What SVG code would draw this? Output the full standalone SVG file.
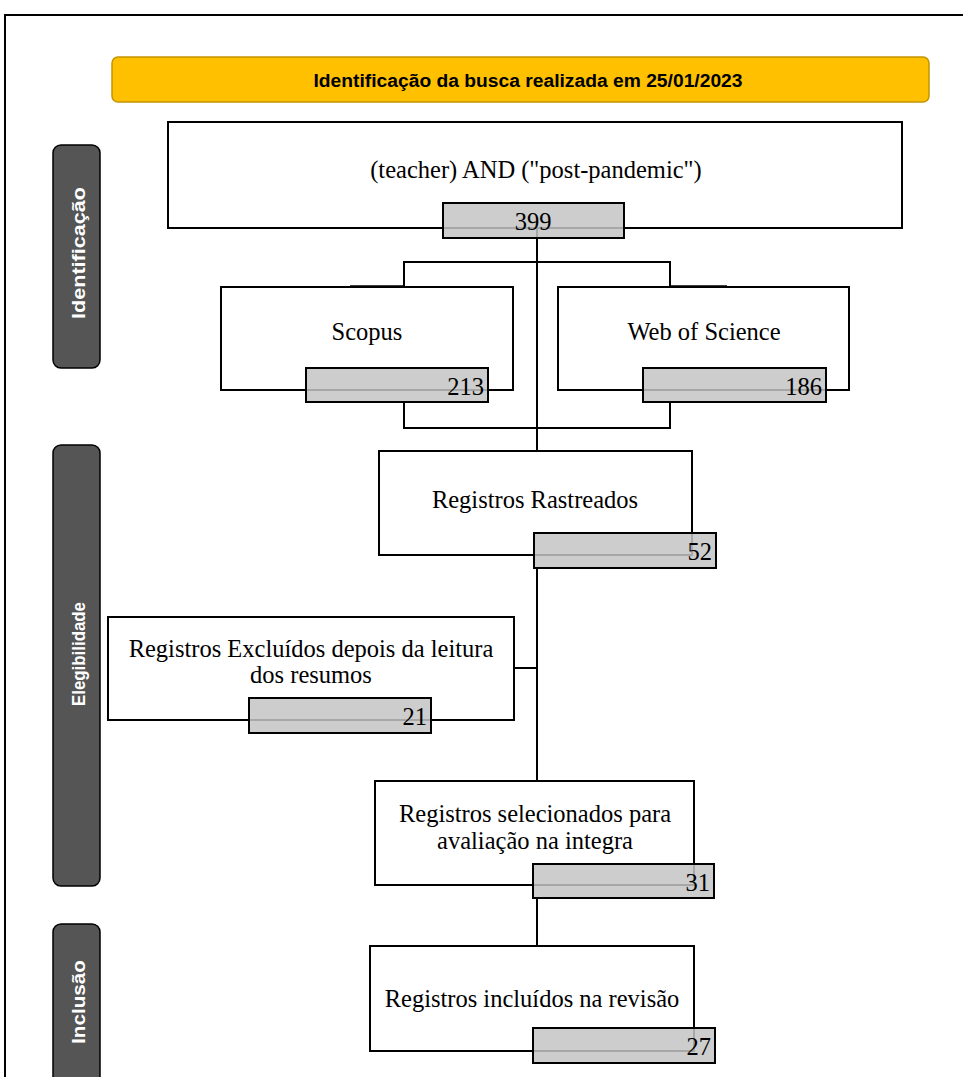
<svg xmlns="http://www.w3.org/2000/svg" width="963" height="1077" viewBox="0 0 963 1077">
<style>
.box{fill:#fff;stroke:#000;stroke-width:2}
.num{fill:#c4c4c4;fill-opacity:0.85;stroke:#000;stroke-width:2}
.t{font-family:"Liberation Serif","Times New Roman",serif;font-size:24.5px;fill:#000}
.side{fill:#555;stroke:#000;stroke-width:1.5}
.st{font-family:"Liberation Sans",Arial,sans-serif;font-weight:bold;font-size:19px;fill:#fff}
.ln{fill:none;stroke:#000;stroke-width:2}
</style>
<rect width="963" height="1077" fill="#fff"/>
<path d="M5,1077 V15 H963" fill="none" stroke="#000" stroke-width="2"/>
<g id="banner">
<rect x="112" y="57" width="817" height="45" rx="6" fill="#ffc000" stroke="#c49400" stroke-width="1.5"/>
<text x="528" y="87" text-anchor="middle" font-family="'Liberation Sans',Arial,sans-serif" font-weight="bold" font-size="18" textLength="429" lengthAdjust="spacingAndGlyphs">Identificação da busca realizada em 25/01/2023</text>
</g>
<g id="lbl-identificacao">
<rect class="side" x="53" y="145" width="47" height="223" rx="8"/>
<text class="st" transform="translate(85,253) rotate(-90)" text-anchor="middle" textLength="132" lengthAdjust="spacingAndGlyphs">Identificação</text>
</g>
<g id="lbl-elegibilidade">
<rect class="side" x="53" y="445" width="47" height="441" rx="8"/>
<text class="st" transform="translate(85,654) rotate(-90)" text-anchor="middle" textLength="104" lengthAdjust="spacingAndGlyphs">Elegibilidade</text>
</g>
<g id="lbl-inclusao">
<rect class="side" x="53" y="924" width="47" height="170" rx="8"/>
<text class="st" transform="translate(85,1002) rotate(-90)" text-anchor="middle" textLength="84" lengthAdjust="spacingAndGlyphs">Inclusão</text>
</g>
<g id="connectors">
<path class="ln" d="M537,220 V450"/>
<path class="ln" d="M404,287 V262 H670 V287"/>
<path class="ln" d="M404,402 V428 H670 V402"/>
<path d="M350,287 H404 M670,287 H727" stroke="#000" stroke-width="3.5"/>
<path class="ln" d="M537,568 V781"/>
<path class="ln" d="M514,668 H537"/>
<path class="ln" d="M537,898 V946"/>
</g>
<g id="n-query">
<rect class="box" x="168" y="122" width="734" height="106"/>
<text class="t" x="536" y="178" text-anchor="middle">(teacher) AND ("post-pandemic")</text>
<rect class="num" x="443" y="203" width="181" height="35"/>
<text class="t" x="533" y="230" text-anchor="middle">399</text>
</g>
<g id="n-scopus">
<rect class="box" x="221" y="287" width="292" height="103"/>
<text class="t" x="367" y="340" text-anchor="middle">Scopus</text>
<rect class="num" x="306" y="368" width="182" height="34"/>
<text class="t" x="484" y="395" text-anchor="end">213</text>
</g>
<g id="n-wos">
<rect class="box" x="558" y="287" width="291" height="103"/>
<text class="t" x="704" y="340" text-anchor="middle">Web of Science</text>
<rect class="num" x="643" y="368" width="183" height="34"/>
<text class="t" x="822" y="395" text-anchor="end">186</text>
</g>
<g id="n-rastreados">
<rect class="box" x="379" y="451" width="313" height="104"/>
<text class="t" x="535" y="508" text-anchor="middle">Registros Rastreados</text>
<rect class="num" x="534" y="533" width="182" height="35"/>
<text class="t" x="712" y="560" text-anchor="end">52</text>
</g>
<g id="n-excluidos">
<rect class="box" x="108" y="617" width="406" height="103"/>
<text class="t" x="311" y="657" text-anchor="middle">Registros Excluídos depois da leitura</text>
<text class="t" x="311" y="683" text-anchor="middle">dos resumos</text>
<rect class="num" x="249" y="698" width="182" height="35"/>
<text class="t" x="427" y="725" text-anchor="end">21</text>
</g>
<g id="n-selecionados">
<rect class="box" x="375" y="781" width="319" height="104"/>
<text class="t" x="535" y="822" text-anchor="middle">Registros selecionados para</text>
<text class="t" x="535" y="849" text-anchor="middle">avaliação na integra</text>
<rect class="num" x="533" y="864" width="181" height="34"/>
<text class="t" x="710" y="891" text-anchor="end">31</text>
</g>
<g id="n-incluidos">
<rect class="box" x="370" y="946" width="324" height="105"/>
<text class="t" x="532" y="1007" text-anchor="middle">Registros incluídos na revisão</text>
<rect class="num" x="533" y="1028" width="182" height="35"/>
<text class="t" x="711" y="1055" text-anchor="end">27</text>
</g>
</svg>
